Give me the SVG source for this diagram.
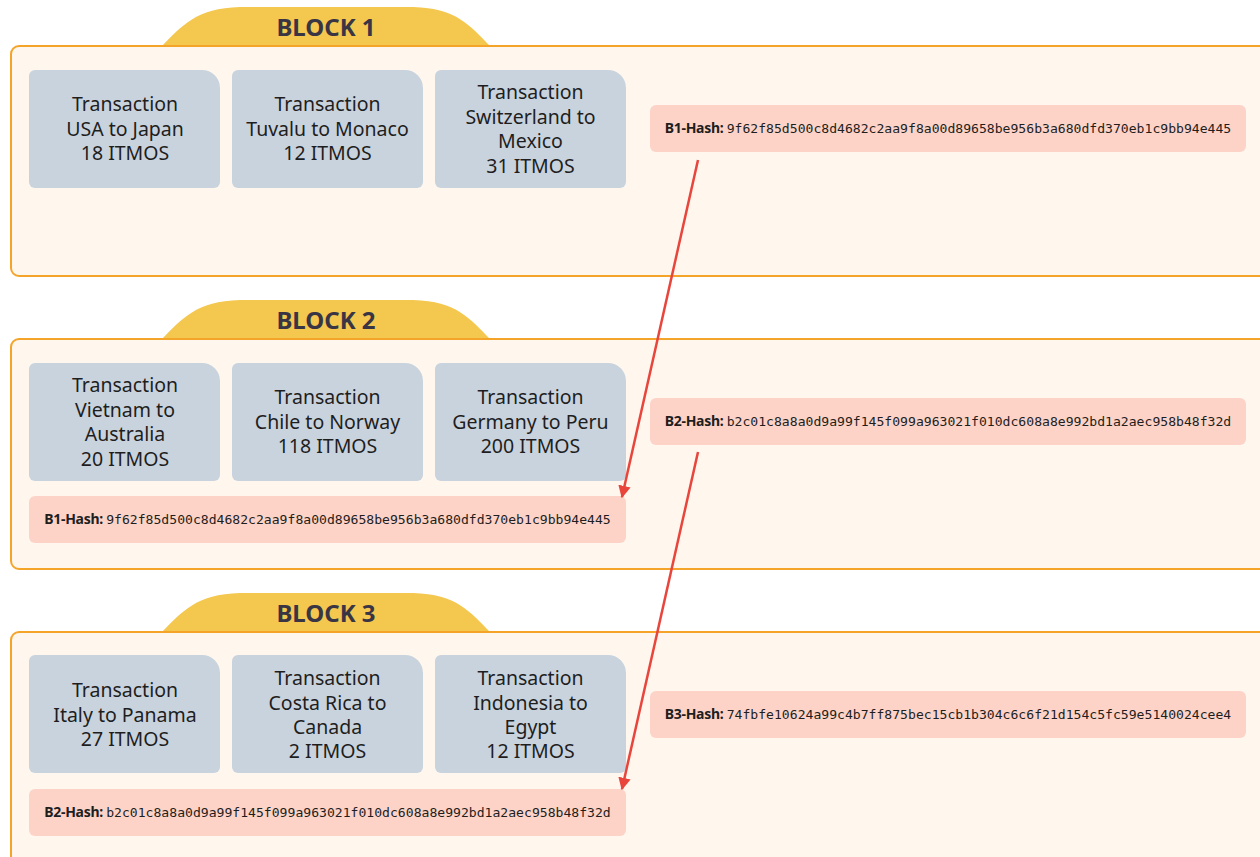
<svg xmlns="http://www.w3.org/2000/svg" width="1260" height="857" viewBox="0 0 1260 857">
<style>
.blk{fill:#FFF7EE;stroke:#F5A42A;stroke-width:2}
.tab{fill:#F4C74F}
.tabt{font-family:"Noto Sans",sans-serif;font-weight:bold;font-size:24px;fill:#3A3545;text-anchor:middle}
.tx{fill:#C9D3DD}
.txt{font-family:"Noto Sans",sans-serif;font-size:19.5px;fill:#1E1E1E;text-anchor:middle}
.hb{fill:#FDD3C7}
.ht{font-family:"DejaVu Sans Mono",monospace;font-size:13.1px;fill:#1E1E1E;text-anchor:middle}
.hl{font-family:"Noto Sans",sans-serif;font-weight:bold;font-size:14px;letter-spacing:-0.3px}
.arr{stroke:#E8453C;stroke-width:2.5;fill:none}
</style>
<defs>
<path id="txshape" d="M6,0 H173 A18,18 0 0 1 191,18 V112 A6,6 0 0 1 185,118 H6 A6,6 0 0 1 0,112 V6 A6,6 0 0 1 6,0 Z"/>
<path id="tabshape" d="M162,46 C182,26 196,8 240,7 L413,7 C457,8 470,26 490,46 Z"/>
<marker id="ah" viewBox="0 0 10 10" refX="9" refY="5" markerWidth="5" markerHeight="5" orient="auto" markerUnits="strokeWidth">
<path d="M0,0 L10,5 L0,10 Z" fill="#E8453C"/>
</marker>
</defs>

<g id="block1">
<use href="#tabshape" class="tab"/>
<text class="tabt" x="326" y="36">BLOCK 1</text>
<rect class="blk" x="11" y="46" width="1270" height="230" rx="8"/>
</g>
<g id="b1-tx1"><use href="#txshape" class="tx" x="29" y="70"/>
<text class="txt"><tspan x="125" y="111">Transaction</tspan><tspan x="125" y="136">USA to Japan</tspan><tspan x="125" y="160">18 ITMOS</tspan></text></g>
<g id="b1-tx2"><use href="#txshape" class="tx" x="232" y="70"/>
<text class="txt"><tspan x="327.5" y="111">Transaction</tspan><tspan x="327.5" y="136">Tuvalu to Monaco</tspan><tspan x="327.5" y="160">12 ITMOS</tspan></text></g>
<g id="b1-tx3"><use href="#txshape" class="tx" x="435" y="70"/>
<text class="txt"><tspan x="530.5" y="99">Transaction</tspan><tspan x="530.5" y="124">Switzerland to</tspan><tspan x="530.5" y="148">Mexico</tspan><tspan x="530.5" y="173">31 ITMOS</tspan></text></g>
<g id="b1-hash"><rect class="hb" x="650" y="105" width="596" height="47" rx="6"/>
<text class="ht" x="948" y="133"><tspan class="hl">B1-Hash: </tspan>9f62f85d500c8d4682c2aa9f8a00d89658be956b3a680dfd370eb1c9bb94e445</text></g>

<g id="block2">
<use href="#tabshape" class="tab" y="293"/>
<text class="tabt" x="326" y="329">BLOCK 2</text>
<rect class="blk" x="11" y="339" width="1270" height="230" rx="8"/>
</g>
<g id="b2-tx1"><use href="#txshape" class="tx" x="29" y="363"/>
<text class="txt"><tspan x="125" y="392">Transaction</tspan><tspan x="125" y="417">Vietnam to</tspan><tspan x="125" y="441">Australia</tspan><tspan x="125" y="466">20 ITMOS</tspan></text></g>
<g id="b2-tx2"><use href="#txshape" class="tx" x="232" y="363"/>
<text class="txt"><tspan x="327.5" y="404">Transaction</tspan><tspan x="327.5" y="429">Chile to Norway</tspan><tspan x="327.5" y="453">118 ITMOS</tspan></text></g>
<g id="b2-tx3"><use href="#txshape" class="tx" x="435" y="363"/>
<text class="txt"><tspan x="530.5" y="404">Transaction</tspan><tspan x="530.5" y="429">Germany to Peru</tspan><tspan x="530.5" y="453">200 ITMOS</tspan></text></g>
<g id="b2-hash"><rect class="hb" x="650" y="398" width="596" height="47" rx="6"/>
<text class="ht" x="948" y="426"><tspan class="hl">B2-Hash: </tspan>b2c01c8a8a0d9a99f145f099a963021f010dc608a8e992bd1a2aec958b48f32d</text></g>
<g id="b2-prev"><rect class="hb" x="29" y="496" width="597" height="47" rx="6"/>
<text class="ht" x="327.5" y="524"><tspan class="hl">B1-Hash: </tspan>9f62f85d500c8d4682c2aa9f8a00d89658be956b3a680dfd370eb1c9bb94e445</text></g>

<g id="block3">
<use href="#tabshape" class="tab" y="586"/>
<text class="tabt" x="326" y="622">BLOCK 3</text>
<rect class="blk" x="11" y="632" width="1270" height="240" rx="8"/>
</g>
<g id="b3-tx1"><use href="#txshape" class="tx" x="29" y="655"/>
<text class="txt"><tspan x="125" y="697">Transaction</tspan><tspan x="125" y="722">Italy to Panama</tspan><tspan x="125" y="746">27 ITMOS</tspan></text></g>
<g id="b3-tx2"><use href="#txshape" class="tx" x="232" y="655"/>
<text class="txt"><tspan x="327.5" y="685">Transaction</tspan><tspan x="327.5" y="710">Costa Rica to</tspan><tspan x="327.5" y="734">Canada</tspan><tspan x="327.5" y="758">2 ITMOS</tspan></text></g>
<g id="b3-tx3"><use href="#txshape" class="tx" x="435" y="655"/>
<text class="txt"><tspan x="530.5" y="685">Transaction</tspan><tspan x="530.5" y="710">Indonesia to</tspan><tspan x="530.5" y="734">Egypt</tspan><tspan x="530.5" y="758">12 ITMOS</tspan></text></g>
<g id="b3-hash"><rect class="hb" x="650" y="691" width="596" height="47" rx="6"/>
<text class="ht" x="948" y="719"><tspan class="hl">B3-Hash: </tspan>74fbfe10624a99c4b7ff875bec15cb1b304c6c6f21d154c5fc59e5140024cee4</text></g>
<g id="b3-prev"><rect class="hb" x="29" y="789" width="597" height="47" rx="6"/>
<text class="ht" x="327.5" y="817"><tspan class="hl">B2-Hash: </tspan>b2c01c8a8a0d9a99f145f099a963021f010dc608a8e992bd1a2aec958b48f32d</text></g>

<g id="connectors">
<line class="arr" x1="698" y1="160" x2="622" y2="497" marker-end="url(#ah)"/>
<line class="arr" x1="698" y1="452" x2="622" y2="789" marker-end="url(#ah)"/>
</g>
</svg>
